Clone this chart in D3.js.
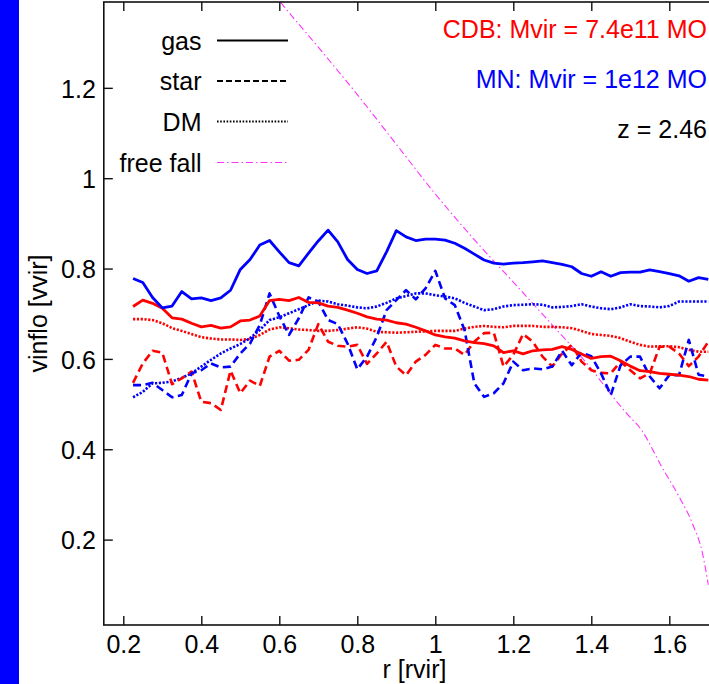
<!DOCTYPE html>
<html>
<head>
<meta charset="utf-8">
<script src="https://cdn.jsdelivr.net/npm/d3@7"></script>
<style>
  html, body { margin: 0; padding: 0; background: #fff; }
  svg { display: block; font-family: "Liberation Sans", Arial, Helvetica, sans-serif; }
</style>
</head>
<body>
<svg id="chart" width="709" height="684"></svg>
<script>
// Radial bins (in units of the virial radius)
const radius = [0.225,0.25,0.275,0.3,0.325,0.35,0.375,0.4,0.425,0.45,0.475,0.5,0.525,0.55,0.575,0.6,0.625,0.65,0.675,0.7,
  0.725,0.75,0.775,0.8,0.825,0.85,0.875,0.9,0.925,0.95,0.975,1.0,1.025,1.05,1.075,1.1,1.125,1.15,1.175,1.2,
  1.225,1.25,1.275,1.3,1.325,1.35,1.375,1.4,1.425,1.45,1.475,1.5,1.525,1.55,1.575,1.6,1.625,1.65,1.675,1.7];

// CDB halo (red)
const cdbGas = [0.716,0.730,0.723,0.712,0.691,0.688,0.679,0.671,0.674,0.668,0.671,0.684,0.686,0.695,0.729,0.732,0.729,0.736,0.725,0.724,
  0.717,0.714,0.708,0.701,0.693,0.688,0.686,0.680,0.677,0.670,0.662,0.653,0.649,0.646,0.640,0.636,0.634,0.629,0.614,0.618,
  0.611,0.618,0.620,0.621,0.627,0.621,0.611,0.601,0.605,0.606,0.596,0.584,0.574,0.572,0.568,0.566,0.564,0.561,0.555,0.553];
const cdbStar = [0.547,0.590,0.618,0.614,0.544,0.557,0.572,0.505,0.502,0.487,0.574,0.524,0.552,0.540,0.605,0.618,0.596,0.598,0.620,0.677,
  0.638,0.629,0.627,0.631,0.589,0.612,0.638,0.583,0.564,0.594,0.609,0.631,0.623,0.623,0.609,0.638,0.657,0.658,0.583,0.609,
  0.655,0.638,0.605,0.583,0.612,0.631,0.594,0.575,0.569,0.568,0.594,0.575,0.557,0.568,0.627,0.627,0.612,0.584,0.605,0.638];
const cdbDM = [0.688,0.688,0.686,0.679,0.668,0.662,0.655,0.648,0.645,0.643,0.643,0.642,0.644,0.653,0.665,0.670,0.668,0.665,0.664,0.662,
  0.662,0.664,0.667,0.670,0.667,0.660,0.659,0.658,0.659,0.660,0.661,0.662,0.662,0.662,0.667,0.671,0.673,0.671,0.670,0.673,
  0.673,0.673,0.671,0.671,0.670,0.668,0.662,0.655,0.653,0.651,0.646,0.638,0.631,0.627,0.628,0.628,0.626,0.620,0.616,0.616];

// MN halo (blue)
const mnGas = [0.778,0.769,0.736,0.713,0.717,0.749,0.733,0.735,0.729,0.735,0.752,0.798,0.820,0.852,0.862,0.837,0.813,0.806,0.834,0.861,
  0.885,0.859,0.820,0.798,0.789,0.795,0.837,0.884,0.870,0.862,0.865,0.865,0.863,0.856,0.845,0.832,0.819,0.812,0.810,0.812,
  0.813,0.815,0.817,0.813,0.809,0.804,0.789,0.783,0.793,0.783,0.791,0.792,0.792,0.797,0.793,0.789,0.784,0.772,0.780,0.776];
const mnStar = [0.542,0.542,0.547,0.531,0.515,0.520,0.568,0.575,0.590,0.581,0.583,0.612,0.634,0.675,0.745,0.695,0.653,0.690,0.736,0.727,
  0.686,0.677,0.634,0.577,0.605,0.649,0.708,0.730,0.752,0.732,0.756,0.795,0.734,0.719,0.664,0.546,0.516,0.524,0.546,0.594,
  0.575,0.579,0.577,0.583,0.618,0.586,0.614,0.606,0.568,0.520,0.586,0.605,0.605,0.561,0.535,0.564,0.564,0.642,0.565,0.561];
const mnDM = [0.515,0.527,0.546,0.547,0.550,0.558,0.568,0.583,0.598,0.612,0.623,0.633,0.646,0.664,0.686,0.692,0.701,0.710,0.719,0.729,
  0.727,0.721,0.718,0.714,0.712,0.716,0.724,0.734,0.739,0.745,0.745,0.741,0.738,0.734,0.724,0.716,0.708,0.710,0.716,0.719,
  0.720,0.721,0.720,0.714,0.715,0.717,0.721,0.716,0.712,0.710,0.714,0.721,0.717,0.716,0.714,0.717,0.727,0.727,0.727,0.727];

// Free-fall velocity profile
const ffRadius = [0.58,0.6,0.7,0.8,0.9,1.0,1.1,1.2,1.3,1.4,1.45,1.49,1.53,1.58,1.625,1.66,1.685,1.7];
const ffSpeed  = [1.415,1.393,1.29,1.185,1.075,0.965,0.864,0.77,0.675,0.578,0.522,0.48,0.441,0.362,0.295,0.234,0.17,0.1];

const xTicks = [0.2,0.4,0.6,0.8,1,1.2,1.4,1.6];
const yTicks = [0.2,0.4,0.6,0.8,1,1.2];

const legendLabels = ["gas","star","DM","free fall"];
const infoLabels = ["CDB: Mvir = 7.4e11 MO","MN: Mvir = 1e12 MO","z = 2.46"];

const RED = "#ff0000", BLUE = "#0000ff", MAGENTA = "#ff33ff";
const DASH = "8,4.5", DOT = "2.2,1.6", DASHDOT = "7,3,1.5,3";

const svg = d3.select("#chart");
const FS = 25;

// Blue band on the left
svg.append("rect").attr("x",0).attr("y",0).attr("width",19).attr("height",684).attr("fill","#0000ff");

const x = d3.scaleLinear().domain([0.15,1.75]).range([103.8,727.8]);
const y = d3.scaleLinear().domain([0.011,1.39]).range([625,2]);

const [x0,x1] = x.range(), [y0,y1] = y.range();

svg.append("clipPath").attr("id","plotclip")
  .append("rect").attr("x",x0).attr("y",y1).attr("width",x1-x0).attr("height",y0-y1);

const plot = svg.append("g").attr("clip-path","url(#plotclip)");
const line = d3.line().x(d => x(d[0])).y(d => y(d[1]));
const smooth = d3.line().x(d => x(d[0])).y(d => y(d[1])).curve(d3.curveMonotoneX);
const pairs = vals => radius.map((r,i) => [r, vals[i]]);

const series = [
  {v: ffRadius.map((r,i)=>[r,ffSpeed[i]]), c: MAGENTA, w: 1.1, d: DASHDOT, gen: smooth},
  {v: pairs(cdbDM),  c: RED,  w: 2.6, d: DOT},
  {v: pairs(mnDM),   c: BLUE, w: 2.6, d: DOT},
  {v: pairs(cdbStar),c: RED,  w: 2.6, d: DASH},
  {v: pairs(mnStar), c: BLUE, w: 2.6, d: DASH},
  {v: pairs(cdbGas), c: RED,  w: 2.8, d: null},
  {v: pairs(mnGas),  c: BLUE, w: 2.8, d: null}
];
series.forEach(s => {
  plot.append("path").datum(s.v).attr("d", s.gen || line)
    .attr("fill","none").attr("stroke", s.c).attr("stroke-width", s.w)
    .attr("stroke-linejoin","round")
    .attr("stroke-dasharray", s.d);
});

// Axes with inward ticks
const fmt = d => String(d);
const gL = svg.append("g").attr("transform",`translate(${x0},0)`)
  .call(d3.axisLeft(y).tickValues(yTicks).tickFormat(fmt).tickSizeInner(-9).tickSizeOuter(0).tickPadding(8));
const gB = svg.append("g").attr("transform",`translate(0,${y0})`)
  .call(d3.axisBottom(x).tickValues(xTicks).tickFormat(fmt).tickSizeInner(-9).tickSizeOuter(0).tickPadding(10));
const gT = svg.append("g").attr("transform",`translate(0,${y1})`)
  .call(d3.axisTop(x).tickValues(xTicks).tickFormat("").tickSizeInner(-9).tickSizeOuter(0));
const gR = svg.append("g").attr("transform",`translate(${x1},0)`)
  .call(d3.axisRight(y).tickValues(yTicks).tickFormat("").tickSizeInner(-9).tickSizeOuter(0));
[gL,gB,gT,gR].forEach(g => {
  g.select(".domain").remove();
  g.selectAll(".tick line").attr("stroke","#111").attr("stroke-width",1.4);
  g.selectAll("text").attr("font-size",FS).attr("fill","#000")
    .attr("font-family",'"Liberation Sans", Arial, Helvetica, sans-serif');
});
gL.selectAll("text").attr("dy","0.37em");

// Frame
svg.append("rect").attr("x",x0).attr("y",y1).attr("width",x1-x0).attr("height",y0-y1)
  .attr("fill","none").attr("stroke","#111").attr("stroke-width",1.6);

// Axis titles
svg.append("text").attr("x",414.5).attr("y",678).attr("text-anchor","middle")
  .attr("font-size",FS).text("r [rvir]");
svg.append("text").attr("transform",`translate(47,${(y0+y1)/2}) rotate(-90)`)
  .attr("text-anchor","middle").attr("font-size",FS).text("vinflo [vvir]");

// Legend
const legendStyles = [
  {d: null, w: 2.2, c: "#000"},
  {d: "6,3", w: 2.2, c: "#000"},
  {d: "1.6,1.6", w: 2.2, c: "#000"},
  {d: DASHDOT, w: 1.1, c: MAGENTA}
];
const legendY = [40.5, 81, 121.5, 162.5];
legendLabels.forEach((t,i) => {
  svg.append("text").attr("x",201.5).attr("y",legendY[i]+9).attr("text-anchor","end")
    .attr("font-size",FS).text(t);
  svg.append("line").attr("x1",217).attr("x2",288).attr("y1",legendY[i]).attr("y2",legendY[i])
    .attr("stroke",legendStyles[i].c).attr("stroke-width",legendStyles[i].w)
    .attr("stroke-dasharray",legendStyles[i].d);
});

// Halo annotations
const infoColors = [RED, BLUE, "#000"];
const infoY = [37.5, 88.3, 137.5];
infoLabels.forEach((t,i) => {
  svg.append("text").attr("x",707).attr("y",infoY[i]).attr("text-anchor","end")
    .attr("font-size",FS).attr("fill",infoColors[i]).text(t);
});
</script>
</body>
</html>
